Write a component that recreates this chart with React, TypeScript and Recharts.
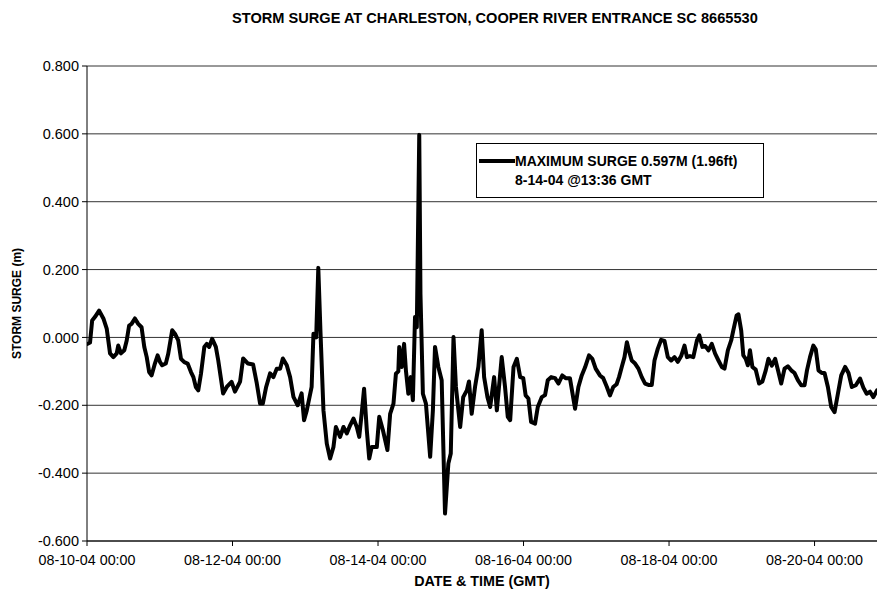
import React from 'react';
import { LineChart, Line, XAxis, YAxis, CartesianGrid, Legend, Label } from 'recharts';

// hours since 08-10-04 00:00 GMT
const hours = [
  0.2, 1.0, 1.7, 2.6, 4.0, 5.4, 6.5, 7.6, 8.7, 9.8,
  10.3, 11.2, 12.3, 13.1, 13.9, 14.7, 15.8, 16.9, 18.0, 18.9,
  19.7, 20.5, 21.3, 22.4, 23.3, 24.1, 24.8, 26.0, 26.8, 28.1,
  29.0, 30.1, 31.0, 32.1, 33.2, 34.3, 35.1, 35.9, 36.7, 37.6,
  38.7, 39.5, 40.3, 41.3, 42.5, 43.3, 44.9, 46.1, 47.7, 48.8,
  50.5, 51.5, 53.1, 54.8, 56.0, 57.1, 58.0, 59.1, 60.4, 61.5,
  62.6, 63.7, 64.6, 65.9, 67.0, 68.1, 69.5, 70.8, 71.6, 72.5,
  74.1, 74.7, 75.6, 76.3, 77.0, 78.0, 79.1, 80.2, 81.3, 82.1,
  83.5, 84.6, 85.7, 86.8, 87.9, 89.0, 89.8, 90.6, 91.4, 92.3,
  93.1, 93.9, 95.6, 96.4, 97.6, 99.1, 100.0, 101.1, 101.9, 102.7,
  103.0, 103.8, 104.6, 105.2, 106.0, 106.8, 107.5, 108.2, 108.8, 109.6,
  110.0, 110.8, 111.8, 113.2, 114.1, 114.8, 115.9, 117.0, 118.1, 119.2,
  120.0, 120.9, 121.7, 123.1, 124.1, 125.3, 126.0, 126.9, 128.0, 129.1,
  130.2, 131.0, 132.1, 133.0, 134.3, 135.2, 136.8, 137.9, 138.8, 139.6,
  140.7, 141.8, 142.9, 143.9, 144.7, 145.6, 146.5, 147.8, 148.7, 150.0,
  151.1, 152.0, 153.1, 154.4, 155.5, 156.8, 157.9, 159.3, 161.0, 162.1,
  163.2, 164.3, 165.6, 166.7, 167.8, 169.2, 170.3, 171.5, 172.5, 173.6,
  174.7, 175.5, 176.4, 177.3, 178.1, 178.8, 179.7, 180.8, 181.9, 183.0,
  184.1, 185.2, 186.3, 187.2, 188.3, 189.4, 190.5, 191.6, 192.7, 193.8,
  194.9, 196.0, 197.1, 197.9, 198.9, 200.0, 201.2, 202.0, 203.0, 203.9,
  205.0, 206.1, 207.2, 208.3, 209.4, 210.3, 211.4, 212.5, 213.2, 214.3,
  214.9, 215.8, 216.5, 217.3, 218.0, 218.7, 219.5, 220.6, 221.7, 222.8,
  223.9, 224.8, 225.9, 227.0, 227.9, 229.0, 230.1, 231.2, 232.3, 233.4,
  234.5, 235.6, 236.7, 237.5, 238.5, 239.6, 240.4, 241.3, 242.4, 243.3,
  244.4, 245.5, 246.6, 247.7, 248.8, 250.1, 251.2, 252.3, 253.6, 255.0,
  256.1, 257.2, 258.3, 259.4, 260.6,
];

// storm surge (m)
const surge = [
  -0.019, -0.015, 0.05, 0.06, 0.079, 0.056, 0.026, -0.047, -0.058, -0.047,
  -0.024, -0.047, -0.038, -0.009, 0.035, 0.04, 0.056, 0.04, 0.03, -0.028,
  -0.058, -0.102, -0.112, -0.077, -0.053, -0.073, -0.082, -0.077, -0.048, 0.021,
  0.011, -0.009, -0.063, -0.073, -0.077, -0.102, -0.117, -0.146, -0.156, -0.107,
  -0.028, -0.019, -0.028, -0.004, -0.028, -0.068, -0.165, -0.146, -0.131, -0.16,
  -0.13, -0.062, -0.077, -0.08, -0.135, -0.195, -0.195, -0.146, -0.106, -0.117,
  -0.092, -0.092, -0.062, -0.082, -0.117, -0.175, -0.2, -0.165, -0.244, -0.215,
  -0.146, 0.011, 0.0, 0.205, 0.02, -0.215, -0.313, -0.357, -0.323, -0.264,
  -0.293, -0.264, -0.283, -0.259, -0.239, -0.264, -0.293, -0.225, -0.151, -0.273,
  -0.357, -0.323, -0.323, -0.234, -0.273, -0.332, -0.225, -0.195, -0.107, -0.1,
  -0.028, -0.087, -0.019, -0.097, -0.166, -0.117, -0.185, 0.06, 0.03, 0.597,
  0.128, -0.166, -0.195, -0.352, -0.215, -0.028, -0.087, -0.126, -0.519, -0.372,
  -0.342, 0.001, -0.146, -0.264, -0.176, -0.156, -0.13, -0.225, -0.146, -0.087,
  0.021, -0.117, -0.176, -0.205, -0.117, -0.215, -0.058, -0.146, -0.234, -0.244,
  -0.087, -0.063, -0.117, -0.12, -0.171, -0.18, -0.249, -0.254, -0.205, -0.176,
  -0.17, -0.126, -0.117, -0.12, -0.136, -0.112, -0.12, -0.12, -0.21, -0.146,
  -0.112, -0.088, -0.053, -0.063, -0.092, -0.112, -0.12, -0.146, -0.171, -0.146,
  -0.138, -0.117, -0.087, -0.058, -0.014, -0.04, -0.068, -0.077, -0.092, -0.117,
  -0.136, -0.14, -0.14, -0.068, -0.033, -0.007, -0.01, -0.058, -0.068, -0.058,
  -0.072, -0.055, -0.024, -0.058, -0.055, -0.058, -0.009, 0.006, -0.028, -0.025,
  -0.038, -0.019, -0.048, -0.068, -0.087, -0.092, -0.038, -0.009, 0.021, 0.065,
  0.068, 0.021, -0.053, -0.063, -0.082, -0.038, -0.087, -0.095, -0.136, -0.13,
  -0.097, -0.063, -0.083, -0.063, -0.095, -0.136, -0.092, -0.085, -0.097, -0.105,
  -0.126, -0.141, -0.141, -0.097, -0.058, -0.024, -0.035, -0.097, -0.105, -0.105,
  -0.146, -0.205, -0.22, -0.166, -0.112, -0.087, -0.105, -0.146, -0.141, -0.121,
  -0.148, -0.166, -0.16, -0.176, -0.156,
];

const timeTicks = [0, 48, 96, 144, 192, 240];
const timeTickLabels = [
  '08-10-04 00:00',
  '08-12-04 00:00',
  '08-14-04 00:00',
  '08-16-04 00:00',
  '08-18-04 00:00',
  '08-20-04 00:00',
];
const surgeTicks = [-0.6, -0.4, -0.2, 0, 0.2, 0.4, 0.6, 0.8];

const chartTitle = 'STORM SURGE AT CHARLESTON, COOPER RIVER ENTRANCE SC 8665530';
const xTitle = 'DATE & TIME (GMT)';
const yTitle = 'STORM SURGE (m)';
const legendLines = ['MAXIMUM SURGE 0.597M (1.96ft)', '8-14-04 @13:36 GMT'];

const data = hours.map((h, i) => ({ h, v: surge[i] }));

const FONT = '"Liberation Sans", Arial, Helvetica, sans-serif';

function LegendBox() {
  return (
    <div
      style={{
        width: 286,
        height: 53,
        border: '1px solid #000',
        background: '#fff',
        position: 'relative',
        fontFamily: FONT,
        fontWeight: 'bold',
        fontSize: 14,
        color: '#000',
      }}
    >
      <div style={{ position: 'absolute', left: 2, top: 15, width: 36, height: 4, background: '#000' }} />
      <div style={{ position: 'absolute', left: 38, top: 9, lineHeight: '16px', whiteSpace: 'nowrap' }}>
        {legendLines[0]}
      </div>
      <div style={{ position: 'absolute', left: 38, top: 28, lineHeight: '16px', whiteSpace: 'nowrap' }}>
        {legendLines[1]}
      </div>
    </div>
  );
}

export default function App() {
  const labelFor = (t: number) => {
    const i = timeTicks.indexOf(t);
    return i >= 0 ? timeTickLabels[i] : '';
  };
  return (
    <div
      style={{
        position: 'absolute',
        left: 0,
        top: 0,
        width: 877,
        height: 592,
        background: '#fff',
        overflow: 'hidden',
        fontFamily: FONT,
      }}
    >
      <div
        style={{
          position: 'absolute',
          left: 232,
          top: 9,
          lineHeight: '18px',
          fontSize: 14.6,
          fontWeight: 'bold',
          whiteSpace: 'nowrap',
          color: '#000',
        }}
      >
        {chartTitle}
      </div>
      <LineChart width={877} height={592} data={data} margin={{ top: 66, right: 0, bottom: 0, left: 0 }}>
        <CartesianGrid vertical={false} stroke="#333" strokeWidth={1} />
        <XAxis
          dataKey="h"
          type="number"
          domain={[0, 260.6]}
          allowDataOverflow
          ticks={timeTicks}
          tickFormatter={labelFor}
          height={51}
          interval={0}
          tickSize={5}
          tickMargin={9}
          axisLine={{ stroke: '#000' }}
          tickLine={{ stroke: '#000' }}
          tick={{ fill: '#000', fontSize: 14.3, fontFamily: FONT }}
        >
          <Label
            value={xTitle}
            position="insideBottom"
            offset={6}
            style={{ fontWeight: 'bold', fontSize: 14.3, fill: '#000', fontFamily: FONT }}
          />
        </XAxis>
        <YAxis
          type="number"
          domain={[-0.6, 0.8]}
          ticks={surgeTicks}
          tickFormatter={(v: number) => v.toFixed(3)}
          width={87}
          interval={0}
          tickSize={5}
          tickMargin={3}
          axisLine={{ stroke: '#000' }}
          tickLine={{ stroke: '#000' }}
          tick={{ fill: '#000', fontSize: 14.5, fontFamily: FONT }}
        >
          <Label
            value={yTitle}
            angle={-90}
            position="insideLeft"
            offset={17}
            style={{ textAnchor: 'middle', fontWeight: 'bold', fontSize: 12, fill: '#000', fontFamily: FONT }}
          />
        </YAxis>
        <Legend
          layout="vertical"
          align="center"
          verticalAlign="middle"
          content={() => <LegendBox />}
          wrapperStyle={{ left: 476, top: 143, width: 288, height: 55 }}
        />
        <Line
          type="linear"
          dataKey="v"
          name={legendLines[0]}
          stroke="#000"
          strokeWidth={4}
          strokeLinejoin="round"
          strokeLinecap="round"
          dot={false}
          activeDot={false}
          isAnimationActive={false}
        />
      </LineChart>
    </div>
  );
}
